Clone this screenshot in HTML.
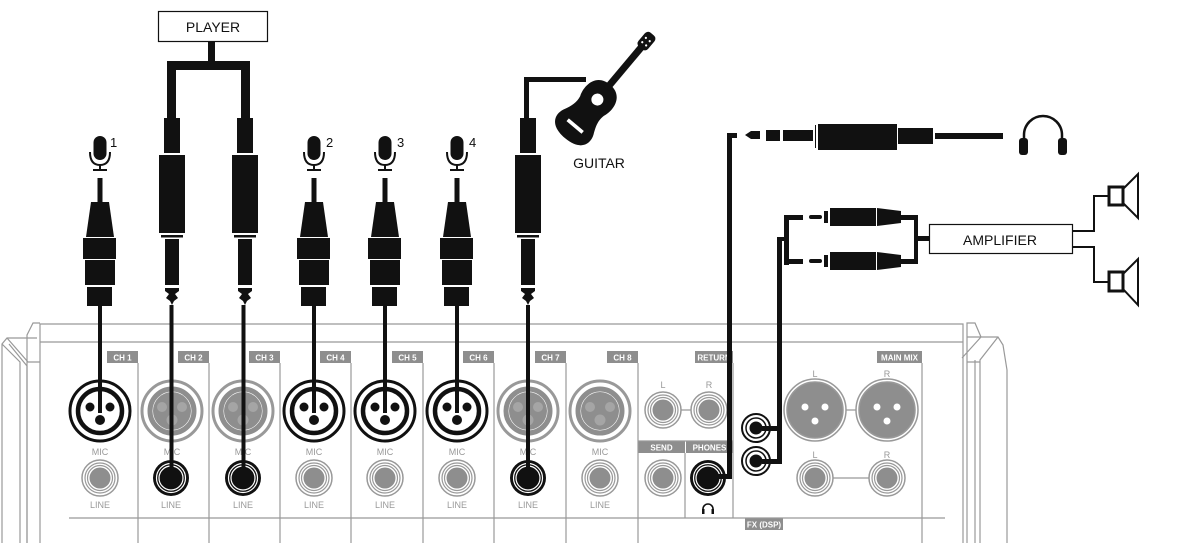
<!DOCTYPE html>
<html><head><meta charset="utf-8"><style>
html,body{margin:0;padding:0;background:#fff;}
svg{display:block;}
text{font-family:"Liberation Sans",sans-serif;}
</style></head><body>
<svg width="1189" height="543" viewBox="0 0 1189 543" xmlns="http://www.w3.org/2000/svg">
<defs>
<g id="xon">
 <circle r="30" fill="#fff" stroke="#111" stroke-width="3"/>
 <circle r="22" fill="#fff" stroke="#111" stroke-width="4.5"/>
 <circle cx="-10" cy="-4" r="4.5" fill="#111"/><circle cx="10" cy="-4" r="4.5" fill="#111"/><circle cx="0" cy="9" r="5" fill="#111"/>
</g>
<g id="xoff">
 <circle r="30" fill="#fff" stroke="#999" stroke-width="3"/>
 <circle r="22" fill="#fff" stroke="#8e8e8e" stroke-width="5"/>
 <circle r="19" fill="#8e8e8e"/>
 <circle cx="-10" cy="-4" r="5" fill="#a5a5a5"/><circle cx="10" cy="-4" r="5" fill="#a5a5a5"/><circle cx="0" cy="9" r="5.5" fill="#a5a5a5"/>
</g>
<g id="joff">
 <circle r="18" fill="#fff" stroke="#999" stroke-width="1.5"/>
 <circle r="15" fill="none" stroke="#999" stroke-width="1.2"/>
 <circle r="12.5" fill="none" stroke="#999" stroke-width="1.2"/>
 <circle r="10.5" fill="#8e8e8e"/>
</g>
<g id="jon">
 <circle r="18" fill="#111"/>
 <circle r="14.5" fill="none" stroke="#fff" stroke-width="1.2"/>
 <circle r="12" fill="none" stroke="#fff" stroke-width="1.2"/>
 <circle r="10" fill="#111"/>
</g>
<g id="mic">
 <rect x="-6.5" y="136" width="13" height="24" rx="6.5" fill="#111"/>
 <path d="M-10 152 Q-10 165 0 165 Q10 165 10 152" fill="none" stroke="#111" stroke-width="2"/>
 <rect x="-1" y="165" width="2" height="5" fill="#111"/>
 <rect x="-7" y="169" width="14" height="2" fill="#111"/>
 <rect x="-2.5" y="178" width="5" height="24" fill="#111"/>
 <polygon points="-9,202 9,202 14,237 -14,237" fill="#111"/>
 <rect x="-17" y="238" width="33" height="21" fill="#111"/>
 <rect x="-15" y="260" width="30" height="25" fill="#111"/>
 <rect x="-13" y="287" width="25" height="19" fill="#111"/>
</g>
<g id="jplug">
 <rect x="-8" y="118" width="16" height="35" fill="#111"/>
 <rect x="-13" y="155" width="26" height="78" fill="#111"/>
 <rect x="-11" y="235" width="22" height="2.5" fill="#111"/>
 <rect x="-7" y="239" width="14" height="46" fill="#111"/>
 <polygon points="-7,288 7,288 7,291 3,294 6,298 2,301 0,305 -2,301 -6,298 -3,294 -7,291" fill="#111"/>
</g>
</defs>

<!-- mixer frame -->
<g fill="none" stroke="#999" stroke-width="1.2">
 <path d="M40 543 V324 H963 V543"/>
 <path d="M40 342 H963"/>
 <path d="M27 543 V335 L33 323 H40"/>
 <path d="M2 543 V344 L7 338 H37 M7 338 L28 362 H40 M9 344 L27 366 V543 M2 344 L20 362 V543"/>
 <path d="M967 543 V323 H975 L981 337 H998 L1003 345 L1007 370 V543 M967 337 H981 M981 337 L962 358 M998 337 L980 360 V543 M975 360 V543 M967 362 H980"/>
</g>
<!-- channel labels & dividers -->
<g fill="#8e8e8e">
 <rect x="107" y="351" width="31" height="12"/><rect x="178" y="351" width="31" height="12"/>
 <rect x="249" y="351" width="31" height="12"/><rect x="320" y="351" width="31" height="12"/>
 <rect x="392" y="351" width="31" height="12"/><rect x="463" y="351" width="31" height="12"/>
 <rect x="535" y="351" width="31" height="12"/><rect x="607" y="351" width="31" height="12"/>
 <rect x="695" y="351" width="38" height="12"/><rect x="877" y="351" width="45" height="12"/>
 <rect x="638" y="441" width="47" height="12"/><rect x="686" y="441" width="47" height="12"/>
 <rect x="745" y="518" width="38" height="12"/>
</g>
<g font-size="8" fill="#fff" font-weight="bold" text-anchor="middle">
 <text x="122.5" y="360.5">CH 1</text><text x="193.5" y="360.5">CH 2</text><text x="264.5" y="360.5">CH 3</text>
 <text x="335.5" y="360.5">CH 4</text><text x="407.5" y="360.5">CH 5</text><text x="478.5" y="360.5">CH 6</text>
 <text x="550.5" y="360.5">CH 7</text><text x="622.5" y="360.5">CH 8</text><text x="714" y="360.5">RETURN</text>
 <text x="899.5" y="360.5">MAIN MIX</text><text x="661.5" y="450.5">SEND</text><text x="709.5" y="450.5">PHONES</text>
 <text x="764" y="527.5">FX (DSP)</text>
</g>
<g stroke="#999" stroke-width="1.2" fill="none">
 <path d="M138 363V543 M209 363V543 M280 363V543 M351 363V543 M423 363V543 M494 363V543 M566 363V543 M638 363V543"/>
 <path d="M685 453V518 M733 363V518 M638 441H733 M922 363V543 M69 518H945"/>
 <path d="M672 410H700 M833 410H869 M833 478H869"/>
</g>
<!-- channel jacks -->
<use href="#xon" x="100" y="411"/><use href="#xoff" x="172" y="411"/><use href="#xoff" x="243" y="411"/>
<use href="#xon" x="314" y="411"/><use href="#xon" x="385" y="411"/><use href="#xon" x="457" y="411"/>
<use href="#xoff" x="528" y="411"/><use href="#xoff" x="600" y="411"/>
<use href="#joff" x="100" y="478"/><use href="#jon" x="171" y="478"/><use href="#jon" x="243" y="478"/>
<use href="#joff" x="314" y="478"/><use href="#joff" x="385" y="478"/><use href="#joff" x="457" y="478"/>
<use href="#jon" x="528" y="478"/><use href="#joff" x="600" y="478"/>
<use href="#joff" x="663" y="410"/><use href="#joff" x="709" y="410"/><use href="#joff" x="663" y="478"/>
<use href="#jon" x="708" y="478"/><use href="#joff" x="815" y="478"/><use href="#joff" x="887" y="478"/>
<g fill="#8e8e8e" stroke="#999" stroke-width="1.5">
 <circle cx="815" cy="410" r="31" fill="#fff"/><circle cx="815" cy="410" r="28"/>
 <circle cx="887" cy="410" r="31" fill="#fff"/><circle cx="887" cy="410" r="28"/>
</g>
<g fill="#fff"><circle cx="805" cy="407" r="3.5"/><circle cx="825" cy="407" r="3.5"/><circle cx="815" cy="421" r="3.5"/>
<circle cx="877" cy="407" r="3.5"/><circle cx="897" cy="407" r="3.5"/><circle cx="887" cy="421" r="3.5"/></g>
<g font-size="9" fill="#999" text-anchor="middle">
 <text x="100" y="455">MIC</text><text x="172" y="455">MIC</text><text x="243" y="455">MIC</text><text x="314" y="455">MIC</text>
 <text x="385" y="455">MIC</text><text x="457" y="455">MIC</text><text x="528" y="455">MIC</text><text x="600" y="455">MIC</text>
 <text x="100" y="508">LINE</text><text x="171" y="508">LINE</text><text x="243" y="508">LINE</text><text x="314" y="508">LINE</text>
 <text x="385" y="508">LINE</text><text x="457" y="508">LINE</text><text x="528" y="508">LINE</text><text x="600" y="508">LINE</text>
 <text x="663" y="388">L</text><text x="709" y="388">R</text><text x="815" y="377">L</text><text x="887" y="377">R</text>
 <text x="815" y="458">L</text><text x="887" y="458">R</text>
</g>
<path d="M703 514 V509 A5 5 0 0 1 713 509 V514" fill="none" stroke="#111" stroke-width="1.6"/>
<rect x="702" y="509" width="2.5" height="5" fill="#111"/><rect x="711.5" y="509" width="2.5" height="5" fill="#111"/>
<!-- RCA jacks -->
<g><circle cx="756" cy="428" r="14" fill="#fff" stroke="#111" stroke-width="2"/><circle cx="756" cy="428" r="10" fill="none" stroke="#111" stroke-width="1.5"/><circle cx="756" cy="428" r="6.5" fill="#111"/>
<circle cx="756" cy="461" r="14" fill="#fff" stroke="#111" stroke-width="2"/><circle cx="756" cy="461" r="10" fill="none" stroke="#111" stroke-width="1.5"/><circle cx="756" cy="461" r="6.5" fill="#111"/></g>

<!-- cables into mixer -->
<g fill="#111">
 <rect x="98" y="305" width="4" height="108"/><rect x="312" y="305" width="4" height="108"/>
 <rect x="383" y="305" width="4" height="108"/><rect x="455" y="305" width="4" height="108"/>
 <rect x="169.5" y="305" width="4" height="173"/><rect x="241.5" y="305" width="4" height="173"/>
 <rect x="526" y="305" width="4" height="173"/>
</g>
<!-- mics -->
<use href="#mic" x="100" y="0"/><use href="#mic" x="314" y="0"/><use href="#mic" x="385" y="0"/><use href="#mic" x="457" y="0"/>
<g font-size="13" fill="#111"><text x="110" y="147">1</text><text x="326" y="147">2</text><text x="397" y="147">3</text><text x="469" y="147">4</text></g>
<!-- player -->
<rect x="158.5" y="11.5" width="109" height="30" fill="#fff" stroke="#111" stroke-width="1.2"/>
<text x="213" y="32" font-size="14" text-anchor="middle" fill="#111">PLAYER</text>
<g fill="#111"><rect x="208" y="42" width="7" height="20"/><rect x="167" y="61" width="83" height="9"/>
<rect x="167" y="61" width="9" height="57"/><rect x="241" y="61" width="9" height="57"/></g>
<use href="#jplug" x="172" y="0"/><use href="#jplug" x="245" y="0"/>
<!-- guitar -->
<use href="#jplug" x="528" y="0"/>
<g fill="#111">
 <rect x="524" y="77" width="5" height="42"/><rect x="524" y="77" width="62" height="5"/>
 <g transform="translate(592 106) rotate(-50) scale(1.4)">
  <path d="M-30 0 C-30 -14 -22 -17 -15 -14 C-9 -11 -5 -10 0 -11 C7 -14 20 -13 20 0 C20 13 7 14 0 11 C-5 10 -9 11 -15 14 C-22 17 -30 14 -30 0 Z"/>
  <rect x="16" y="-2.5" width="40" height="5"/>
  <rect x="54" y="-4.5" width="13" height="9" rx="3"/>
  <circle cx="6" cy="0" r="4.3" fill="#fff"/>
  <rect x="-20" y="-7" width="2.6" height="14" fill="#fff"/>
  <circle cx="58" cy="-1.8" r="0.8" fill="#fff"/><circle cx="62" cy="-1.8" r="0.8" fill="#fff"/>
  <circle cx="58" cy="1.8" r="0.8" fill="#fff"/><circle cx="62" cy="1.8" r="0.8" fill="#fff"/>
 </g>
</g>
<text x="599" y="168" font-size="14" text-anchor="middle" fill="#111">GUITAR</text>

<!-- phones cable -->
<g fill="#111">
 <rect x="702" y="474" width="30" height="5"/><rect x="727" y="133" width="5" height="346"/><rect x="727" y="133" width="10" height="5"/>
 <path d="M745 135 L751 131 H760 V139 H751 Z"/>
 <rect x="766" y="130" width="14" height="11"/><rect x="783" y="130" width="30" height="11"/>
 <rect x="815" y="125" width="1" height="23"/>
 <rect x="818" y="124" width="79" height="26"/><rect x="898" y="128" width="35" height="16"/>
 <rect x="935" y="133" width="68" height="6"/>
 <path d="M1024 153 V135 A19 19 0 0 1 1062 135 V153" fill="none" stroke="#111" stroke-width="2.5"/>
 <rect x="1019" y="138" width="9" height="17" rx="3"/><rect x="1058" y="138" width="9" height="17" rx="3"/>
</g>
<!-- RCA cables -->
<g fill="#111">
 <rect x="762" y="426" width="20" height="5"/><rect x="762" y="459" width="20" height="5"/>
 <rect x="777" y="237" width="5" height="227"/><rect x="777" y="237" width="10" height="4"/>
 <rect x="784" y="215" width="5" height="50"/>
 <rect x="784" y="215" width="19" height="5"/><rect x="784" y="259" width="19" height="5"/>
 <rect x="809" y="215" width="13" height="4" rx="2"/><rect x="809" y="259" width="13" height="4" rx="2"/>
 <rect x="824" y="211" width="4" height="12"/><rect x="824" y="255" width="4" height="12"/>
 <rect x="830" y="208" width="46" height="18"/><rect x="830" y="252" width="46" height="18"/>
 <polygon points="877,208 901,211 901,223 877,226"/><polygon points="877,252 901,255 901,267 877,270"/>
 <rect x="901" y="215" width="17" height="5"/><rect x="901" y="259" width="17" height="5"/>
 <rect x="914" y="215" width="4" height="49"/><rect x="914" y="236" width="16" height="5"/>
</g>
<rect x="929.5" y="224.5" width="143" height="29" fill="#fff" stroke="#111" stroke-width="1.2"/>
<text x="1000" y="245" font-size="14" text-anchor="middle" fill="#111">AMPLIFIER</text>
<g fill="none" stroke="#111" stroke-width="2">
 <path d="M1073 231 H1094 V196 H1108 M1073 247 H1094 V282 H1108"/>
 <rect x="1109" y="187" width="14" height="18" stroke-width="3"/>
 <polygon points="1123,189 1138,174 1138,218 1123,203"/>
 <rect x="1109" y="272" width="14" height="19" stroke-width="3"/>
 <polygon points="1123,274 1138,259 1138,305 1123,289"/>
</g>
</svg>
</body></html>
